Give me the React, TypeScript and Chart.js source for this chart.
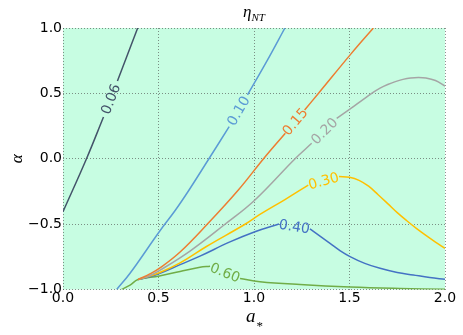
import React, { useEffect, useRef } from 'react';
import { Chart, registerables } from 'chart.js';

Chart.register(...registerables);

// Axis ticks
const X_TICKS = [0.0, 0.5, 1.0, 1.5, 2.0];
const Y_TICKS = [-1.0, -0.5, 0.0, 0.5, 1.0];

// Contour levels (labels) and colours
const LEVEL_LABELS = ['0.06', '0.10', '0.15', '0.20', '0.30', '0.40', '0.60'];
const LEVEL_COLORS = ['#44546A', '#5B9BD5', '#ED7D31', '#A5A5A5', '#FFC000', '#4472C4', '#70AD47'];

// Contour paths: a_* values and alpha values (label gap after index GAP_xxx)
const A_006 = [0.0, 0.123, 0.212, 0.285, 0.391];
const ALPHA_006 = [-0.405, 0.0, 0.319, 0.595, 1.0];
const GAP_006 = 2;

const A_010 = [0.281, 0.351, 0.504, 0.589, 0.66, 0.764, 0.87, 0.966, 1.068, 1.162];
const ALPHA_010 = [-1.0, -0.876, -0.558, -0.392, -0.239, 0.0, 0.245, 0.488, 0.748, 1.0];
const GAP_010 = 6;

const A_015 = [0.393, 0.455, 0.504, 0.613, 0.755, 0.918, 1.05, 1.164, 1.265, 1.338, 1.51, 1.625];
const ALPHA_015 = [-0.924, -0.881, -0.839, -0.713, -0.501, -0.239, 0.0, 0.195, 0.373, 0.501, 0.806, 1.0];
const GAP_015 = 7;

const A_020 = [0.393, 0.455, 0.504, 0.665, 0.848, 1.005, 1.215, 1.302, 1.433, 1.5, 1.56, 1.616, 1.66, 1.7, 1.74, 1.78, 1.82, 1.86, 1.9, 1.95, 2.0];
const ALPHA_020 = [-0.924, -0.893, -0.856, -0.706, -0.501, -0.315, 0.0, 0.118, 0.309, 0.378, 0.44, 0.5, 0.54, 0.568, 0.59, 0.607, 0.618, 0.622, 0.618, 0.598, 0.556];
const GAP_020 = 7;

const A_030 = [0.393, 0.504, 0.613, 0.751, 0.953, 1.031, 1.162, 1.284, 1.445, 1.5, 1.55, 1.6, 1.65, 1.7, 1.75, 1.8, 1.85, 1.9, 1.95, 2.0];
const ALPHA_030 = [-0.924, -0.872, -0.797, -0.671, -0.501, -0.426, -0.312, -0.201, -0.136, -0.142, -0.165, -0.21, -0.275, -0.343, -0.412, -0.474, -0.532, -0.586, -0.637, -0.685];
const GAP_030 = 7;

const A_040 = [0.393, 0.45, 0.504, 0.613, 0.717, 0.874, 1.005, 1.131, 1.293, 1.398, 1.45, 1.503, 1.58, 1.66, 1.75, 1.834, 1.92, 2.0];
const ALPHA_040 = [-0.924, -0.905, -0.878, -0.81, -0.745, -0.636, -0.558, -0.499, -0.537, -0.647, -0.702, -0.748, -0.8, -0.838, -0.87, -0.889, -0.908, -0.922];
const GAP_040 = 7;

const A_060 = [0.307, 0.351, 0.393, 0.504, 0.613, 0.717, 0.77, 0.927, 1.031, 1.241, 1.503, 1.764, 2.0];
const ALPHA_060 = [-1.0, -0.966, -0.924, -0.897, -0.862, -0.83, -0.823, -0.916, -0.94, -0.962, -0.981, -0.992, -0.998];
const GAP_060 = 6;

const PATHS_A = [A_006, A_010, A_015, A_020, A_030, A_040, A_060];
const PATHS_ALPHA = [ALPHA_006, ALPHA_010, ALPHA_015, ALPHA_020, ALPHA_030, ALPHA_040, ALPHA_060];
const GAPS = [GAP_006, GAP_010, GAP_015, GAP_020, GAP_030, GAP_040, GAP_060];

function buildData(a: number[], al: number[], gap: number) {
  const out: any[] = [];
  for (let i = 0; i < a.length; i++) {
    out.push({ x: a[i], y: al[i] });
    if (i === gap) out.push({ x: (a[i] + a[i + 1]) / 2, y: null });
  }
  return out;
}

const fmt = (v: number) => (v < 0 ? '\u2212' : '') + Math.abs(v).toFixed(1);

const bgPlugin = {
  id: 'bgFill',
  beforeDraw(chart: any) {
    const { ctx, chartArea } = chart;
    ctx.save();
    ctx.fillStyle = 'rgb(199,253,226)';
    ctx.fillRect(chartArea.left, chartArea.top, chartArea.right - chartArea.left, chartArea.bottom - chartArea.top);
    ctx.restore();
  },
};

const contourLabelPlugin = {
  id: 'contourLabels',
  afterDatasetsDraw(chart: any) {
    const ctx = chart.ctx;
    const xs = chart.scales.x;
    const ys = chart.scales.y;
    chart.data.datasets.forEach((ds: any) => {
      const g = ds.gapAfter;
      const p1 = ds.data[g];
      const p2 = ds.data[g + 2];
      const x1 = xs.getPixelForValue(p1.x);
      const y1 = ys.getPixelForValue(p1.y);
      const x2 = xs.getPixelForValue(p2.x);
      const y2 = ys.getPixelForValue(p2.y);
      let ang = Math.atan2(y2 - y1, x2 - x1);
      if (ang > Math.PI / 2) ang -= Math.PI;
      if (ang < -Math.PI / 2) ang += Math.PI;
      ctx.save();
      ctx.translate((x1 + x2) / 2, (y1 + y2) / 2);
      ctx.rotate(ang);
      ctx.font = '14px "DejaVu Sans"';
      ctx.fillStyle = ds.borderColor;
      ctx.textAlign = 'center';
      ctx.textBaseline = 'middle';
      ctx.fillText(ds.label, 0, 1);
      ctx.restore();
    });
  },
};

const textPlugin = {
  id: 'mathText',
  afterDraw(chart: any) {
    const { ctx, chartArea } = chart;
    const cx = (chartArea.left + chartArea.right) / 2;
    ctx.save();
    ctx.fillStyle = '#000';
    ctx.textBaseline = 'alphabetic';
    ctx.textAlign = 'left';
    // title eta_NT
    const fMain = 'italic 17px "Liberation Serif"';
    const fSub = 'italic 11px "Liberation Serif"';
    ctx.font = fMain;
    const w1 = ctx.measureText('\u03B7').width;
    ctx.font = fSub;
    const w2 = ctx.measureText('NT').width;
    const tx = cx - (w1 + w2) / 2;
    ctx.font = fMain;
    ctx.fillText('\u03B7', tx, 17);
    ctx.font = fSub;
    ctx.fillText('NT', tx + w1, 20.5);
    // x label a_*
    const fA = 'italic 19px "Liberation Serif"';
    const fStar = '13px "Liberation Serif"';
    ctx.font = fA;
    const wa = ctx.measureText('a').width;
    ctx.font = fStar;
    const ws = ctx.measureText('*').width;
    const ax = cx - (wa + ws) / 2;
    ctx.font = fA;
    ctx.fillText('a', ax, 321.5);
    ctx.font = fStar;
    ctx.fillText('*', ax + wa + 1, 330);
    // y label alpha
    ctx.translate(22, (chartArea.top + chartArea.bottom) / 2);
    ctx.rotate(-Math.PI / 2);
    ctx.textAlign = 'center';
    ctx.font = 'italic 17px "Liberation Serif"';
    ctx.fillText('\u03B1', 0, 0);
    ctx.restore();
  },
};

export default function App() {
  const ref = useRef<HTMLCanvasElement | null>(null);
  useEffect(() => {
    if (!ref.current) return;
    const datasets = LEVEL_LABELS.map((lab, i) => ({
      label: lab,
      data: buildData(PATHS_A[i], PATHS_ALPHA[i], GAPS[i]),
      gapAfter: GAPS[i] + 0,
      borderColor: LEVEL_COLORS[i],
      backgroundColor: LEVEL_COLORS[i],
      borderWidth: 1.5,
      pointRadius: 0,
      fill: false,
      spanGaps: false,
      tension: 0.4,
    }));
    const chart = new Chart(ref.current, {
      type: 'line',
      data: { datasets },
      options: {
        animation: false,
        responsive: false,
        devicePixelRatio: 1,
        events: [],
        layout: { padding: { left: 0, right: 18, top: 28, bottom: 0 } },
        plugins: { legend: { display: false }, tooltip: { enabled: false }, title: { display: false } },
        scales: {
          x: {
            type: 'linear',
            min: 0,
            max: 2,
            afterBuildTicks: (s: any) => { s.ticks = X_TICKS.map((v) => ({ value: v })); },
            afterFit: (s: any) => { s.height = 45.5; },
            grid: { color: 'rgba(70,70,70,0.6)', lineWidth: 1, drawTicks: false },
            border: { display: false, dash: [1, 2] },
            ticks: {
              padding: 0,
              color: '#000',
              font: { family: '"DejaVu Sans"', size: 14 },
              maxRotation: 0,
              autoSkip: false,
              callback: (v: any) => fmt(Number(v)),
            },
          },
          y: {
            type: 'linear',
            min: -1,
            max: 1,
            afterBuildTicks: (s: any) => { s.ticks = Y_TICKS.map((v) => ({ value: v })); },
            afterFit: (s: any) => { s.width = 63; },
            grid: { color: 'rgba(70,70,70,0.6)', lineWidth: 1, drawTicks: false },
            border: { display: false, dash: [1, 2] },
            ticks: {
              padding: 1,
              color: '#000',
              font: { family: '"DejaVu Sans"', size: 14 },
              autoSkip: false,
              callback: (v: any) => fmt(Number(v)),
            },
          },
        },
      } as any,
      plugins: [bgPlugin, contourLabelPlugin, textPlugin],
    });
    return () => chart.destroy();
  }, []);
  return (
    <div style={{ position: 'fixed', left: 0, top: 0, width: 463, height: 335, background: '#fff' }}>
      <canvas ref={ref} width={463} height={335} style={{ display: 'block' }} />
    </div>
  );
}
